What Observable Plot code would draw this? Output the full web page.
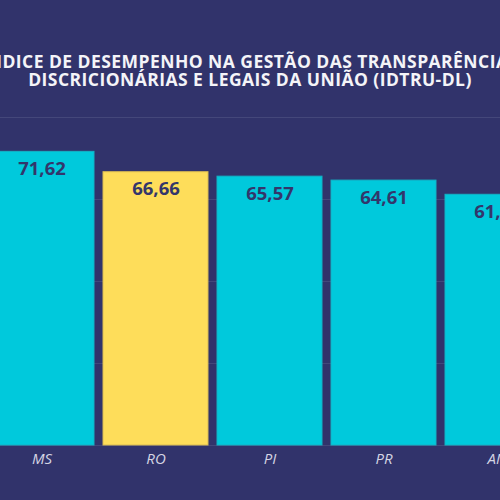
<!DOCTYPE html>
<html>
<head>
<meta charset="utf-8">
<script src="https://cdn.jsdelivr.net/npm/d3@7"></script>
<script src="https://cdn.jsdelivr.net/npm/@observablehq/plot@0.6"></script>
<style>
  html, body { margin: 0; padding: 0; background: #31336b; overflow: hidden; }
  #wrap { position: relative; width: 500px; height: 500px; overflow: hidden; }
  #titulo {
    position: absolute; top: 52px; left: 0; width: 500px;
    display: flex; justify-content: center;
  }
  #titulo div {
    flex: none; white-space: nowrap; text-align: center;
    font-family: "Open Sans", sans-serif; font-weight: 700; font-size: 17.5px;
    letter-spacing: 0.45px; line-height: 18px; color: #f4f4f8;
  }
  #chart { position: absolute; top: 0; left: 0; }
</style>
</head>
<body>
<div id="wrap">
  <div id="chart"></div>
  <div id="titulo"><div>ÍNDICE DE DESEMPENHO NA GESTÃO DAS TRANSPARÊNCIAS<br>DISCRICIONÁRIAS E LEGAIS DA UNIÃO (IDTRU-DL)</div></div>
</div>
<script>
// estados visibles y su índice
const estados = ['MS', 'RO', 'PI', 'PR', 'AM']
const valores = [71.62, 66.66, 65.57, 64.61, 61.15]
const destacado = 'RO'
const ticksY = [0, 20, 40, 60, 80]

const data = estados.map((e, i) => ({ estado: e, valor: valores[i] }))

// config. números con coma decimal
const fmt = d3.format('.2f')
const coma = v => fmt(v).replace('.', ',')

let chart = Plot.plot({
  width: 500,
  height: 500,
  marginTop: 117,
  marginBottom: 55,
  marginLeft: 0,
  marginRight: 0,
  style: { background: 'transparent', overflow: 'visible' },
  x: {
    domain: estados,
    range: [-16, 555],
    paddingInner: 0.075,
    paddingOuter: 0.0375,
    axis: null,
  },
  y: {
    domain: [0, 80],
    axis: null,
  },
  marks: [
    Plot.ruleY(ticksY, { stroke: '#44477a', strokeWidth: 1.2 }),
    Plot.barY(data, {
      x: 'estado',
      y: 'valor',
      fill: d => d.estado === destacado ? '#fedd5a' : '#00c9dc',
      stroke: d => d.estado === destacado ? '#d9bb52' : '#13b3c6',
      strokeWidth: 1,
    }),
    Plot.text(data, {
      x: 'estado',
      y: 'valor',
      text: d => coma(d.valor),
      dy: 17,
      fill: '#33366b',
      fontSize: 18.5,
      fontWeight: 700,
      fontFamily: 'Open Sans',
    }),
    Plot.text(data, {
      x: 'estado',
      y: 0,
      text: 'estado',
      dy: 14,
      fill: '#d4d5e3',
      fontSize: 15,
      fontStyle: 'italic',
      fontFamily: 'Open Sans',
    }),
  ],
})

d3.select('#chart').append(() => chart)
</script>
</body>
</html>
